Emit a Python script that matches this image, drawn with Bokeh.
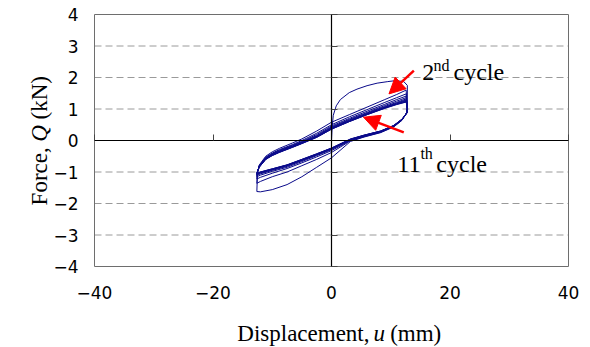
from bokeh.plotting import figure
from bokeh.models import (Range1d, Label, Arrow, NormalHead, FixedTicker, CustomJSTickFormatter,
                          LinearAxis)
from bokeh.embed import file_html
from bokeh.resources import INLINE
import math

# ---------------- data ----------------
# first loading from the origin (displacement mm, force kN)
init_x = [0, 0.1, 0.3, 0.8, 1.5, 3.0, 4.3, 6.0, 7.7, 9.5, 10.8, 12.2, 12.8]
init_y = [0, 0.40, 0.80, 1.10, 1.30, 1.52, 1.63, 1.74, 1.82, 1.87, 1.90, 1.87, 1.75]

# loading branch (negative -> positive) displacement grid
up_x = [-12.5, -12.2, -11.1, -10.0, -8.8, -6.6, -5.0, -2.5, 0.0, 3.0, 6.0, 9.0, 11.0, 12.6]
up_c2 = [-1.05, -0.78, -0.50, -0.36, -0.25, -0.08, 0.05, 0.30, 0.58, 0.82, 1.06, 1.30, 1.46, 1.60]
up_c3 = [-1.02, -0.80, -0.53, -0.40, -0.29, -0.13, 0.00, 0.23, 0.50, 0.75, 0.98, 1.21, 1.36, 1.48]
up_c4 = [-1.01, -0.81, -0.55, -0.42, -0.31, -0.15, -0.03, 0.19, 0.46, 0.70, 0.93, 1.15, 1.30, 1.41]
up_c5 = [-1.00, -0.82, -0.56, -0.43, -0.33, -0.17, -0.05, 0.16, 0.43, 0.67, 0.89, 1.11, 1.25, 1.36]
up_c6 = [-1.00, -0.83, -0.57, -0.44, -0.34, -0.18, -0.06, 0.14, 0.41, 0.65, 0.87, 1.08, 1.21, 1.32]
up_c7 = [-0.99, -0.83, -0.58, -0.45, -0.35, -0.19, -0.07, 0.13, 0.40, 0.63, 0.85, 1.06, 1.19, 1.29]
up_c8 = [-0.99, -0.84, -0.59, -0.46, -0.36, -0.20, -0.08, 0.12, 0.38, 0.62, 0.84, 1.05, 1.17, 1.27]
up_c9 = [-0.99, -0.84, -0.59, -0.47, -0.37, -0.21, -0.09, 0.11, 0.37, 0.61, 0.83, 1.04, 1.16, 1.25]
up_c10 = [-0.98, -0.85, -0.60, -0.47, -0.37, -0.21, -0.09, 0.10, 0.36, 0.60, 0.82, 1.03, 1.15, 1.23]
up_c11 = [-0.98, -0.85, -0.60, -0.48, -0.38, -0.22, -0.10, 0.10, 0.36, 0.60, 0.82, 1.02, 1.14, 1.22]

# unloading branch (positive -> negative) displacement grid
dn_x = [12.8, 12.7, 11.9, 10.5, 8.3, 5.5, 3.2, 0.0, -2.5, -5.0, -7.5, -10.0, -12.0, -12.6]
dn_c1 = [1.05, 0.88, 0.64, 0.43, 0.25, 0.11, -0.03, -0.55, -0.85, -1.15, -1.40, -1.56, -1.63, -1.62]
dn_c2 = [1.05, 0.89, 0.65, 0.44, 0.26, 0.12, -0.01, -0.38, -0.60, -0.80, -1.00, -1.15, -1.30, -1.36]
dn_c3 = [1.03, 0.88, 0.65, 0.45, 0.27, 0.13, 0.00, -0.32, -0.52, -0.71, -0.89, -1.04, -1.17, -1.22]
dn_c4 = [1.02, 0.88, 0.66, 0.45, 0.28, 0.14, 0.01, -0.29, -0.48, -0.67, -0.85, -0.98, -1.10, -1.15]
dn_c5 = [1.02, 0.88, 0.66, 0.46, 0.28, 0.15, 0.02, -0.27, -0.46, -0.64, -0.82, -0.95, -1.06, -1.11]
dn_c6 = [1.01, 0.87, 0.67, 0.46, 0.29, 0.15, 0.03, -0.26, -0.45, -0.63, -0.80, -0.93, -1.04, -1.09]
dn_c7 = [1.01, 0.87, 0.67, 0.47, 0.29, 0.16, 0.03, -0.25, -0.44, -0.62, -0.79, -0.92, -1.02, -1.07]
dn_c8 = [1.00, 0.87, 0.67, 0.47, 0.30, 0.16, 0.04, -0.25, -0.43, -0.61, -0.78, -0.91, -1.01, -1.06]
dn_c9 = [1.00, 0.87, 0.68, 0.47, 0.30, 0.17, 0.04, -0.24, -0.43, -0.60, -0.78, -0.90, -1.00, -1.05]
dn_c10 = [1.00, 0.86, 0.68, 0.48, 0.30, 0.17, 0.05, -0.24, -0.42, -0.60, -0.77, -0.90, -1.00, -1.04]

x_ticks = [-40, -20, 0, 20, 40]
y_ticks = [-4, -3, -2, -1, 0, 1, 2, 3, 4]
y_grid = [-3, -2, -1, 1, 2, 3]
X_LIM = (-40, 40)
Y_LIM = (-4, 4)

# ---------------- build the continuous record ----------------
path_x = list(init_x)
path_y = list(init_y)
downs = [dn_c1, dn_c2, dn_c3, dn_c4, dn_c5, dn_c6, dn_c7, dn_c8, dn_c9, dn_c10]
ups = [up_c2, up_c3, up_c4, up_c5, up_c6, up_c7, up_c8, up_c9, up_c10, up_c11]
for d, u in zip(downs, ups):
    path_x += dn_x
    path_y += d
    path_x += up_x
    path_y += u

# ---------------- figure ----------------
# The frame fills the whole canvas; the plotting box (-40..40, -4..4) sits inside it
# so that the axis titles (with italic symbols) can be drawn as labels.
W, H = 590, 347
BOX_L, BOX_R, BOX_T, BOX_B = 94, 568, 14, 266
sx = (BOX_R - BOX_L) / (X_LIM[1] - X_LIM[0])
sy = (BOX_B - BOX_T) / (Y_LIM[1] - Y_LIM[0])
x_range = Range1d(X_LIM[0] - BOX_L / sx, X_LIM[1] + (W - BOX_R) / sx)
y_range = Range1d(Y_LIM[0] - (H - BOX_B) / sy, Y_LIM[1] + BOX_T / sy)

p = figure(width=W, height=H, x_range=x_range, y_range=y_range,
           output_backend="svg", toolbar_location=None,
           min_border=0, min_border_left=0, min_border_right=0,
           min_border_top=0, min_border_bottom=0)
p.background_fill_color = "white"
p.border_fill_color = "white"
p.outline_line_color = None
p.xgrid.visible = False
p.ygrid.visible = False

# dashed horizontal gridlines inside the box
p.segment(x0=[X_LIM[0]] * len(y_grid), x1=[X_LIM[1]] * len(y_grid), y0=y_grid, y1=y_grid,
          line_color="#9a9a9a", line_dash="7 4", line_width=1)

minus_fmt = CustomJSTickFormatter(code="return tick < 0 ? '\u2212' + Math.abs(tick) : String(tick);")
blank_fmt = CustomJSTickFormatter(code="return '';")

# labelled axes along the box edges
p.xaxis.fixed_location = Y_LIM[0]
p.yaxis.fixed_location = X_LIM[0]
for ax, ticks, standoff in ((p.xaxis, x_ticks, 19), (p.yaxis, y_ticks, 16)):
    ax.ticker = FixedTicker(ticks=ticks)
    ax.formatter = minus_fmt
    ax.axis_line_color = None
    ax.major_tick_line_color = None
    ax.minor_tick_line_color = None
    ax.major_tick_out = 0
    ax.major_tick_in = 0
    ax.major_label_standoff = standoff
    ax.major_label_text_font = "DejaVu Sans"
    ax.major_label_text_font_size = "17px"
    ax.major_label_text_color = "black"

# plotting box
p.quad(left=X_LIM[0], right=X_LIM[1], bottom=Y_LIM[0], top=Y_LIM[1],
       fill_color=None, line_color="#6e6e6e", line_width=1)

# zero axes (crossing at the origin) with inward tick marks
zero_y = LinearAxis(fixed_location=0, bounds=Y_LIM,
                    ticker=FixedTicker(ticks=[t for t in y_ticks if t != 0]),
                    formatter=blank_fmt, axis_line_color="black", axis_line_width=1.2,
                    major_tick_line_color="#444444", major_tick_in=6, major_tick_out=0,
                    minor_tick_line_color=None)
zero_x = LinearAxis(fixed_location=0, bounds=X_LIM,
                    ticker=FixedTicker(ticks=[t for t in x_ticks if t != 0]),
                    formatter=blank_fmt, axis_line_color="black", axis_line_width=1.2,
                    major_tick_line_color="#444444", major_tick_in=6, major_tick_out=0,
                    minor_tick_line_color=None)
p.add_layout(zero_y, "left")
p.add_layout(zero_x, "below")

# hysteresis record
p.line(path_x, path_y, line_color="#0a0a8a", line_width=1.0)

# arrows
p.add_layout(Arrow(x_start=13.9, y_start=2.22, x_end=9.7, y_end=1.48,
                   line_color="red", line_width=2.5,
                   end=NormalHead(size=16, fill_color="red", line_color="red")))
p.add_layout(Arrow(x_start=12.2, y_start=0.26, x_end=5.4, y_end=0.74,
                   line_color="red", line_width=2.5,
                   end=NormalHead(size=16, fill_color="red", line_color="red")))

SERIF = "Liberation Serif"
def lab(x, y, text, size, style="normal", angle=0.0):
    p.add_layout(Label(x=x, y=y, text=text, text_font=SERIF, text_font_size=size,
                       text_font_style=style, text_color="black", angle=angle,
                       text_align="left", text_baseline="alphabetic"))

# annotations
lab(15.3, 2.17, "2", "24px")
lab(17.2, 2.38, "nd", "16px")
lab(20.6, 2.17, "cycle", "24px")
lab(11.1, -0.76, "11", "24px")
lab(15.0, -0.42, "th", "16px")
lab(17.7, -0.76, "cycle", "24px")

# axis titles
lab(-15.9, -6.12, "Displacement,", "23px")
lab(7.1, -6.12, "u", "23px", "italic")
lab(9.9, -6.12, "(mm)", "23px")
lab(-49.2, -2.06, "Force,", "23px", angle=math.pi / 2)
lab(-49.2, -0.04, "Q", "23px", "italic", angle=math.pi / 2)
lab(-49.2, 0.67, "(kN)", "23px", angle=math.pi / 2)

open("out.html", "w").write(file_html(p, INLINE))
